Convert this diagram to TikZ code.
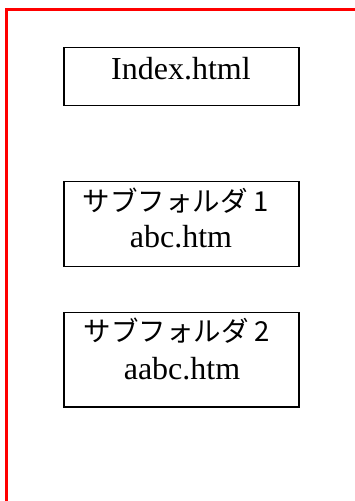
\documentclass[tikz,border=0pt]{standalone}
\usepackage{fontspec}
\setmainfont{Liberation Serif}
\newfontfamily\jpfont{Noto Sans CJK JP}
\begin{document}
\begin{tikzpicture}[x=1pt,y=-1pt,
  filebox/.style={draw=black,line width=1.9pt,minimum width=235pt,inner sep=0pt,fill=white},
  serif/.style={anchor=base,inner sep=0pt,font=\fontsize{32}{38}\selectfont},
  jp/.style={anchor=base,inner sep=0pt,font=\jpfont\fontsize{27.5}{33}\selectfont}]
\useasboundingbox[fill=white] (0,0) rectangle (355,501);
\coordinate (tl) at (6.5,9.5);
\coordinate (tr) at (355,9.5);
\coordinate (bl) at (6.5,501);
\draw[red,line width=2.2pt] (tr) -- (tl) -- (bl);
\node[filebox,minimum height=58pt] (b1) at (181.5,76.5) {};
\node[filebox,minimum height=85pt] (b2) at (181.75,224) {};
\node[filebox,minimum height=94.5pt] (b3) at (181.75,359.75) {};
\node[serif] (t1) at (181,79) {Index.html};
\node[jp] (t2a) at (176,211) {サブフォルダ 1};
\node[serif] (t2b) at (181,247) {abc.htm};
\node[jp] (t3a) at (177,341) {サブフォルダ 2};
\node[serif] (t3b) at (182,379) {aabc.htm};
\end{tikzpicture}
\end{document}
